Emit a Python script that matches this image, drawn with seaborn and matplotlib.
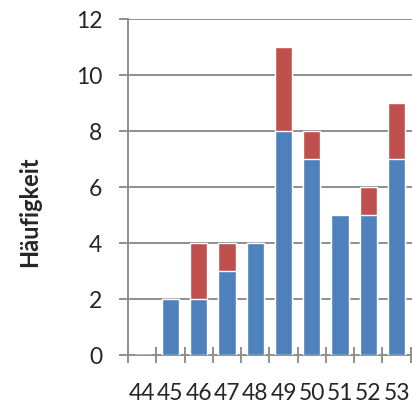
import numpy as np
import pandas as pd
import matplotlib
matplotlib.use("Agg")
import matplotlib.pyplot as plt
import seaborn as sns

# Werte aus dem Diagramm
kategorien = ["44", "45", "46", "47", "48", "49", "50", "51", "52", "53"]
blau = [0, 2, 2, 3, 4, 8, 7, 5, 5, 7]
rot = [0, 0, 2, 1, 0, 3, 1, 0, 1, 2]

df = pd.DataFrame({"Kategorie": kategorien, "blau": blau, "rot": rot})
df["gesamt"] = df["blau"] + df["rot"]

sns.set_style("white")
plt.rcParams["font.family"] = ["Lato", "DejaVu Sans"]

fig = plt.figure(figsize=(4.12, 4.09), dpi=100)
# Achse ragt rechts über den Bildrand hinaus (wie im Original abgeschnitten)
ax = fig.add_axes([128 / 412, 54 / 409, 311 / 412, 336 / 409])

# gestapelte Balken: erst Gesamt (rot), dann blau darüber
sns.barplot(data=df, x="Kategorie", y="gesamt", color="#C0504D", width=0.61,
            saturation=1, ax=ax, zorder=3)
sns.barplot(data=df, x="Kategorie", y="blau", color="#4F81BD", width=0.61,
            saturation=1, ax=ax, zorder=3)

grau = "#8f8f8f"
ax.set_xlim(-0.5, 10.5)
ax.set_ylim(0, 12)
ax.set_yticks(range(0, 13, 2))
ax.yaxis.grid(True, color=grau, linewidth=1.4, zorder=0)
ax.set_axisbelow(True)

for s in ["top", "right"]:
    ax.spines[s].set_visible(False)
for s in ["left", "bottom"]:
    ax.spines[s].set_color(grau)
    ax.spines[s].set_linewidth(1.4)

# Haupt-Ticks an den Kategoriegrenzen, Beschriftungen mittig
ax.set_xticks(np.arange(-0.5, 11, 1))
ax.set_xticklabels([])
ax.set_xticks(np.arange(len(kategorien)), minor=True)
ax.set_xticklabels(kategorien, minor=True)
ax.tick_params(axis="x", which="major", direction="inout", length=11,
               width=1.4, color=grau)
ax.tick_params(axis="x", which="minor", length=0, pad=20, labelsize=16.5)
ax.tick_params(axis="y", direction="out", length=6.5, width=1.4, color=grau,
               pad=12, labelsize=16.5)
ax.tick_params(axis="y", which="both", left=True)
ax.tick_params(axis="x", which="major", bottom=True)

ax.set_xlabel("")
ax.set_ylabel("")
fig.text(30 / 412, 1 - 212 / 409, "Häufigkeit", rotation=90, ha="center",
         va="center", fontsize=17, fontweight="bold")

fig.savefig("out.png", dpi=100)
